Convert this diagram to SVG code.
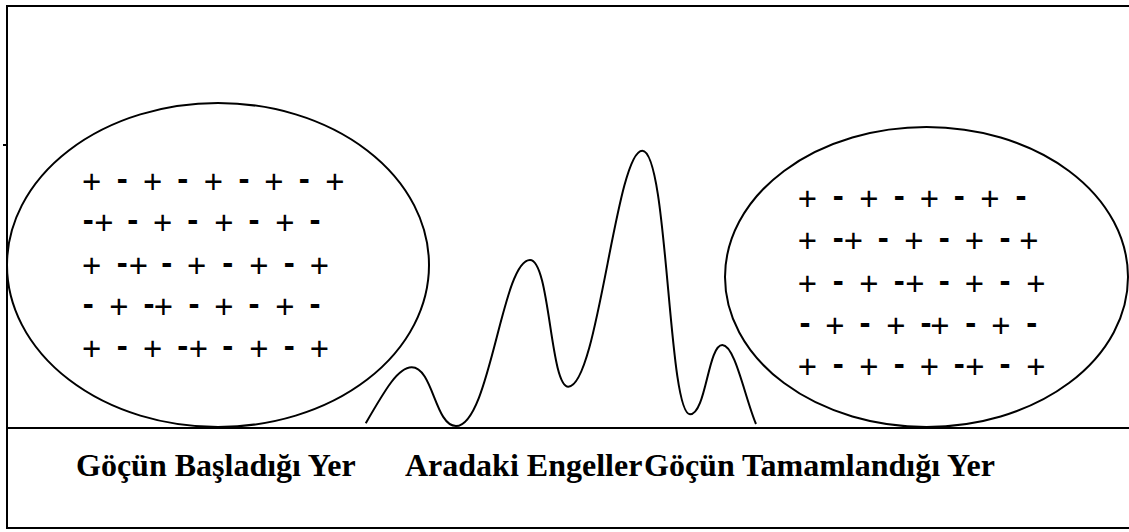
<svg xmlns="http://www.w3.org/2000/svg" width="1129" height="532" viewBox="0 0 1129 532">
<style>
.ln{stroke:#000;stroke-width:2;fill:none}
.sh{stroke:#000;stroke-width:2;fill:none}
.pm{font-family:"Liberation Sans",Arial,sans-serif;font-size:33px;fill:#000;text-anchor:middle}
.d{font-weight:bold}
.lbl{font-family:"Liberation Serif","Times New Roman",serif;font-size:32px;font-weight:bold;fill:#000}
</style>
<rect width="1129" height="532" fill="#fff"/>
<g id="frame">
<line class="ln" x1="7" y1="6" x2="1129" y2="6"/>
<line class="ln" x1="7" y1="5" x2="7" y2="529"/>
<line class="ln" x1="7" y1="528" x2="1129" y2="528"/>
<line class="ln" x1="7" y1="428" x2="1129" y2="428"/>
<line class="ln" x1="3" y1="145" x2="7" y2="145" stroke-width="1.5"/>
</g>
<g id="start-place">
<ellipse class="sh" cx="218" cy="265" rx="211" ry="162"/>
<text class="pm"><tspan x="91.7" y="193.2">+</tspan><tspan class="d" x="122.3" y="190.2">-</tspan><tspan x="152.7" y="193.2">+</tspan><tspan class="d" x="182.7" y="190.2">-</tspan><tspan x="213.3" y="193.2">+</tspan><tspan class="d" x="244" y="190.2">-</tspan><tspan x="274" y="193.2">+</tspan><tspan class="d" x="304.3" y="190.2">-</tspan><tspan x="335" y="193.2">+</tspan></text>
<text class="pm"><tspan class="d" x="88.3" y="231.2">-</tspan><tspan x="104" y="234.2">+</tspan><tspan class="d" x="132.7" y="231.2">-</tspan><tspan x="162.7" y="234.2">+</tspan><tspan class="d" x="192.7" y="231.2">-</tspan><tspan x="224" y="234.2">+</tspan><tspan class="d" x="254" y="231.2">-</tspan><tspan x="285" y="234.2">+</tspan><tspan class="d" x="315" y="231.2">-</tspan></text>
<text class="pm"><tspan x="91.7" y="276.5">+</tspan><tspan class="d" x="122.3" y="273.5">-</tspan><tspan x="138.3" y="276.5">+</tspan><tspan class="d" x="166.7" y="273.5">-</tspan><tspan x="196.7" y="276.5">+</tspan><tspan class="d" x="227.7" y="273.5">-</tspan><tspan x="259" y="276.5">+</tspan><tspan class="d" x="289.3" y="273.5">-</tspan><tspan x="319.3" y="276.5">+</tspan></text>
<text class="pm"><tspan class="d" x="88.3" y="315.2">-</tspan><tspan x="119" y="318.2">+</tspan><tspan class="d" x="149" y="315.2">-</tspan><tspan x="163.3" y="318.2">+</tspan><tspan class="d" x="194" y="315.2">-</tspan><tspan x="224" y="318.2">+</tspan><tspan class="d" x="254" y="315.2">-</tspan><tspan x="285" y="318.2">+</tspan><tspan class="d" x="315" y="315.2">-</tspan></text>
<text class="pm"><tspan x="91.7" y="359.8">+</tspan><tspan class="d" x="122.3" y="356.8">-</tspan><tspan x="152.7" y="359.8">+</tspan><tspan class="d" x="182.7" y="356.8">-</tspan><tspan x="198.3" y="359.8">+</tspan><tspan class="d" x="227.7" y="356.8">-</tspan><tspan x="259" y="359.8">+</tspan><tspan class="d" x="289.3" y="356.8">-</tspan><tspan x="319.3" y="359.8">+</tspan></text>
</g>
<g id="end-place">
<ellipse class="sh" cx="926.5" cy="277" rx="201.5" ry="150"/>
<text class="pm"><tspan x="807.3" y="209.8">+</tspan><tspan class="d" x="838.3" y="206.8">-</tspan><tspan x="869" y="209.8">+</tspan><tspan class="d" x="899.3" y="206.8">-</tspan><tspan x="929.3" y="209.8">+</tspan><tspan class="d" x="959.3" y="206.8">-</tspan><tspan x="990" y="209.8">+</tspan><tspan class="d" x="1021" y="206.8">-</tspan></text>
<text class="pm"><tspan x="807.3" y="252.2">+</tspan><tspan class="d" x="838.3" y="249.2">-</tspan><tspan x="853.3" y="252.2">+</tspan><tspan class="d" x="883.3" y="249.2">-</tspan><tspan x="914" y="252.2">+</tspan><tspan class="d" x="944.3" y="249.2">-</tspan><tspan x="974.3" y="252.2">+</tspan><tspan class="d" x="1005" y="249.2">-</tspan><tspan x="1029" y="252.2">+</tspan></text>
<text class="pm"><tspan x="807.3" y="294.8">+</tspan><tspan class="d" x="838.3" y="291.8">-</tspan><tspan x="869" y="294.8">+</tspan><tspan class="d" x="899.3" y="291.8">-</tspan><tspan x="915" y="294.8">+</tspan><tspan class="d" x="944.3" y="291.8">-</tspan><tspan x="974.3" y="294.8">+</tspan><tspan class="d" x="1005" y="291.8">-</tspan><tspan x="1036" y="294.8">+</tspan></text>
<text class="pm"><tspan class="d" x="805" y="333.5">-</tspan><tspan x="835" y="336.5">+</tspan><tspan class="d" x="865" y="333.5">-</tspan><tspan x="896" y="336.5">+</tspan><tspan class="d" x="926" y="333.5">-</tspan><tspan x="940" y="336.5">+</tspan><tspan class="d" x="970.7" y="333.5">-</tspan><tspan x="1001" y="336.5">+</tspan><tspan class="d" x="1031.7" y="333.5">-</tspan></text>
<text class="pm"><tspan x="807.3" y="378.2">+</tspan><tspan class="d" x="838.3" y="375.2">-</tspan><tspan x="869" y="378.2">+</tspan><tspan class="d" x="899.3" y="375.2">-</tspan><tspan x="929.3" y="378.2">+</tspan><tspan class="d" x="959.3" y="375.2">-</tspan><tspan x="975" y="378.2">+</tspan><tspan class="d" x="1005" y="375.2">-</tspan><tspan x="1036" y="378.2">+</tspan></text>
</g>
<g id="obstacles">
<path class="sh" stroke-width="1.8" d="M365.7,423.3 C385,390 398,367.3 411.7,367.3 C433,367.3 435,426 456,426 C490,426 502,260 530,260 C550,260 550,386.7 568.3,386.7 C598,386.7 616,150.7 642.3,150.7 C668,150.7 668,414.3 690,414.3 C706,414.3 708,345 722.3,345 C735,345 745,398 756,424"/>
</g>
<g id="labels">
<text class="lbl" x="76" y="476">Göçün Başladığı Yer</text>
<text class="lbl" x="405" y="476">Aradaki Engeller</text>
<text class="lbl" x="644" y="476">Göçün Tamamlandığı Yer</text>
</g>
</svg>
